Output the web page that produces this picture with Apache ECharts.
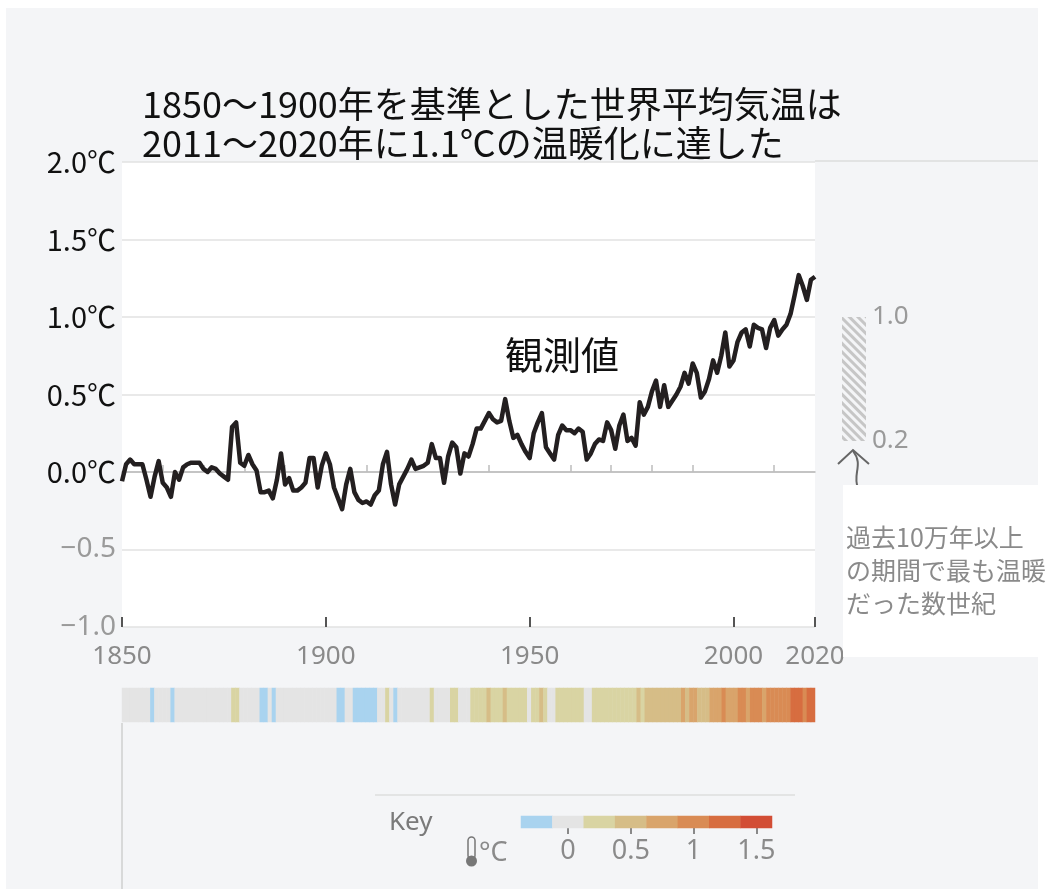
<!DOCTYPE html>
<html>
<head>
<meta charset="utf-8">
<script src="https://cdn.jsdelivr.net/npm/echarts@6/dist/echarts.min.js"></script>
<style>
  html, body { margin: 0; padding: 0; background: #ffffff; }
  #panel { position: absolute; left: 6px; top: 8px; width: 1032px; height: 881px; background: #f4f5f7; }
  #chart { position: absolute; left: 0; top: 0; width: 1054px; height: 889px; }
</style>
</head>
<body>
<div id="panel"></div>
<div id="chart"></div>
<script>
// Global mean surface temperature change relative to 1850-1900 (°C), one value per year
const startYear = 1850;
const anomalies = [
  -0.06, 0.05, 0.08, 0.05, 0.05, 0.05, -0.05, -0.16, -0.03, 0.07,   // 1850s
  -0.07, -0.10, -0.16, 0.00, -0.05, 0.03, 0.05, 0.06, 0.06, 0.06,   // 1860s
  0.02, 0.00, 0.03, 0.02, -0.01, -0.03, -0.05, 0.29, 0.32, 0.06,    // 1870s
  0.04, 0.11, 0.05, 0.01, -0.13, -0.13, -0.12, -0.17, -0.05, 0.12,  // 1880s
  -0.08, -0.04, -0.12, -0.12, -0.10, -0.07, 0.09, 0.09, -0.10, 0.04, // 1890s
  0.12, 0.05, -0.10, -0.17, -0.24, -0.08, 0.02, -0.13, -0.18, -0.20, // 1900s
  -0.19, -0.21, -0.15, -0.12, 0.05, 0.13, -0.08, -0.21, -0.08, -0.03, // 1910s
  0.02, 0.08, 0.02, 0.03, 0.04, 0.06, 0.18, 0.09, 0.09, -0.07,      // 1920s
  0.10, 0.19, 0.16, -0.01, 0.12, 0.10, 0.18, 0.28, 0.28, 0.33,      // 1930s
  0.38, 0.34, 0.32, 0.33, 0.47, 0.33, 0.22, 0.24, 0.18, 0.13,       // 1940s
  0.09, 0.25, 0.32, 0.38, 0.16, 0.12, 0.08, 0.24, 0.30, 0.27,       // 1950s
  0.27, 0.25, 0.28, 0.26, 0.08, 0.12, 0.18, 0.21, 0.20, 0.32,       // 1960s
  0.27, 0.15, 0.30, 0.37, 0.20, 0.22, 0.17, 0.45, 0.37, 0.42,       // 1970s
  0.52, 0.59, 0.42, 0.56, 0.42, 0.46, 0.50, 0.55, 0.64, 0.57,       // 1980s
  0.70, 0.64, 0.48, 0.52, 0.60, 0.72, 0.64, 0.75, 0.90, 0.68,       // 1990s
  0.72, 0.84, 0.90, 0.92, 0.81, 0.95, 0.93, 0.92, 0.80, 0.93,       // 2000s
  0.98, 0.88, 0.92, 0.95, 1.02, 1.14, 1.27, 1.20, 1.11, 1.24,       // 2010s
  1.26                                                               // 2020
];

// Axis ticks
const majorYears = [1850, 1900, 1950, 2000, 2020];
const minorYears = [1860, 1870, 1880, 1890, 1910, 1920, 1930, 1940, 1960, 1970, 1980, 1990, 2010];
const tempMin = -1.0, tempMax = 2.0, tempStep = 0.5;

// Warmest multi-century period in more than 100,000 years (°C range)
const warmRange = [0.2, 1.0];

// Colour key: one cell per 0.25 °C band, labelled at these values
const keyValues = [-0.25, 0, 0.25, 0.5, 0.75, 1, 1.25, 1.5];
const keyLabels = ['0', '0.5', '1', '1.5'];
const stripeColors = ['#a9d3ef', '#e4e4e4', '#d9d4a3', '#d6bd87', '#d9a46b', '#d98b54', '#d76d40', '#d24d35'];

const title = '1850～1900年を基準とした世界平均気温は\n2011～2020年に1.1℃の温暖化に達した';
const seriesLabel = '観測値';
const warmNote = '過去10万年以上\nの期間で最も温暖\nだった数世紀';

const JP = "'Noto Sans CJK JP', 'Noto Sans', sans-serif";
const NARROW = "'Liberation Sans Narrow', 'Noto Sans', sans-serif";

const years = anomalies.map((_, i) => startYear + i);
const linePoints = anomalies.map((v, i) => [years[i], v]);

// piecewise colour bands centred on keyValues
const pieces = keyValues.map((c, i) => {
  const p = { color: stripeColors[i] };
  if (i > 0) p.gte = c - 0.125;
  if (i < keyValues.length - 1) p.lt = c + 0.125;
  return p;
});

const chart = echarts.init(document.getElementById('chart'), null, { renderer: 'canvas' });

chart.setOption({
  backgroundColor: 'transparent',
  animation: false,
  title: {
    text: title,
    left: 137,
    top: 80,
    textStyle: { fontFamily: JP, fontSize: 36, lineHeight: 39, fontWeight: 'normal', color: '#111' }
  },
  grid: [
    { left: 122, right: 239, top: 162, bottom: 262, show: true, backgroundColor: '#ffffff', borderWidth: 0 },
    { left: 122, right: 239, top: 688, height: 34 },
    { left: 521, width: 251, top: 816, height: 12 },
    { left: 842, width: 24, top: 162, bottom: 262 }
  ],
  visualMap: {
    type: 'piecewise',
    show: false,
    seriesIndex: [1, 2],
    dimension: 2,
    pieces: pieces
  },
  xAxis: [
    {
      gridIndex: 0, type: 'value', min: startYear, max: 2020, position: 'bottom',
      axisLine: { lineStyle: { color: '#b8b8b8', width: 1.5 } },
      axisTick: { customValues: minorYears, inside: true, length: 7, lineStyle: { color: '#bdbdbd', width: 1.5 } },
      axisLabel: { show: false },
      splitLine: { show: false }
    },
    {
      gridIndex: 0, type: 'value', min: startYear, max: 2020, position: 'bottom',
      axisLine: { show: false },
      axisTick: { customValues: majorYears, inside: true, length: 10, lineStyle: { color: '#555', width: 2 } },
      axisLabel: {
        customValues: majorYears, formatter: v => String(v),
        color: '#8a8a8a', fontFamily: NARROW, fontSize: 26, margin: 17
      },
      splitLine: { show: false }
    },
    {
      gridIndex: 1, type: 'category', data: years.map(String), show: false
    },
    {
      gridIndex: 2, type: 'category', data: keyValues.map(String), position: 'bottom',
      axisLine: { show: false },
      axisTick: {
        show: true, alignWithLabel: true, length: 6,
        interval: (i, v) => keyLabels.includes(v),
        lineStyle: { color: '#666', width: 1.5 }
      },
      axisLabel: {
        interval: (i, v) => keyLabels.includes(v),
        color: '#8a8a8a', fontFamily: NARROW, fontSize: 27, margin: 10
      }
    },
    {
      gridIndex: 3, type: 'category', data: [''], show: false
    }
  ],
  yAxis: [
    {
      gridIndex: 0, type: 'value', min: tempMin, max: tempMax, interval: tempStep,
      axisLine: { show: false },
      axisTick: { show: false },
      splitLine: { lineStyle: { color: '#e2e2e2', width: 1.5 } },
      axisLabel: {
        margin: 6,
        formatter: v => v >= 0 ? '{p|' + v.toFixed(1) + '℃}' : '{n|−' + Math.abs(v).toFixed(1) + '}',
        rich: {
          p: { fontFamily: JP, fontSize: 29, color: '#111' },
          n: { fontFamily: NARROW, fontSize: 28, color: '#9a9a9a' }
        }
      }
    },
    { gridIndex: 1, type: 'category', data: [''], show: false },
    { gridIndex: 2, type: 'category', data: [''], show: false },
    {
      gridIndex: 3, type: 'value', min: tempMin, max: tempMax, position: 'right',
      axisLine: { show: false }, axisTick: { show: false }, splitLine: { show: false },
      axisLabel: {
        customValues: warmRange, formatter: v => v.toFixed(1),
        color: '#9a9a9a', fontFamily: NARROW, fontSize: 26, margin: 6
      }
    }
  ],
  series: [
    {
      name: seriesLabel, type: 'line', xAxisIndex: 0, yAxisIndex: 0,
      data: linePoints, symbol: 'none', z: 5,
      lineStyle: { color: '#231f20', width: 4.5, join: 'round' }
    },
    {
      type: 'heatmap', xAxisIndex: 2, yAxisIndex: 1,
      data: anomalies.map((v, i) => [i, 0, v]),
      itemStyle: { borderWidth: 0 }
    },
    {
      type: 'heatmap', xAxisIndex: 3, yAxisIndex: 2,
      data: keyValues.map((v, i) => [i, 0, v]),
      itemStyle: { borderWidth: 0 }
    },
    {
      type: 'bar', xAxisIndex: 4, yAxisIndex: 3, stack: 'warm', barWidth: '100%',
      data: [warmRange[0]], itemStyle: { color: 'rgba(0,0,0,0)' }, silent: true
    },
    {
      type: 'bar', xAxisIndex: 4, yAxisIndex: 3, stack: 'warm', barWidth: '100%',
      data: [warmRange[1] - warmRange[0]],
      itemStyle: {
        color: 'rgba(0,0,0,0)',
        decal: {
          symbol: 'rect', symbolSize: 1, color: '#c6c6c6',
          dashArrayX: [1, 0], dashArrayY: [3, 3], rotation: Math.PI / 4
        }
      }
    }
  ],
  graphic: [
    // rule continuing the top of the plot frame to the right
    { type: 'line', shape: { x1: 815, y1: 161, x2: 1038, y2: 161 }, style: { stroke: '#dcdcdc', lineWidth: 1.5 }, z: 1 },
    // series label
    { type: 'text', left: 505, top: 336, style: { text: seriesLabel, font: '38px ' + JP, fill: '#111' }, z: 10 },
    // arrow from the note up to the hatched range
    { type: 'polyline', shape: { points: [[838, 464], [853, 450], [869, 464]] }, style: { stroke: '#666', lineWidth: 2, fill: null }, z: 10 },
    { type: 'bezierCurve', shape: { x1: 853, y1: 451, cpx1: 864, cpy1: 465, cpx2: 852, cpy2: 474, x2: 858, y2: 488 }, style: { stroke: '#666', lineWidth: 2, fill: null }, z: 10 },
    // note box
    { type: 'rect', shape: { x: 843, y: 485, width: 195, height: 172 }, style: { fill: '#ffffff' }, z: 11 },
    { type: 'text', left: 846, top: 521, style: { text: warmNote, font: '25px ' + JP, lineHeight: 33, fill: '#8a8a8a' }, z: 12 },
    // frame lines around the stripe band and key
    { type: 'line', shape: { x1: 122, y1: 723, x2: 122, y2: 889 }, style: { stroke: '#cfcfcf', lineWidth: 1.5 }, z: 1 },
    { type: 'line', shape: { x1: 375, y1: 795, x2: 795, y2: 795 }, style: { stroke: '#dedede', lineWidth: 1.5 }, z: 1 },
    // key caption
    { type: 'text', left: 389, top: 810, style: { text: 'Key', font: '26px ' + NARROW, fill: '#7a7a7a' }, z: 10 },
    // thermometer icon and unit
    { type: 'rect', shape: { x: 468, y: 837, width: 7, height: 22, r: 3.5 }, style: { fill: null, stroke: '#777', lineWidth: 1.5 }, z: 10 },
    { type: 'circle', shape: { cx: 471.5, cy: 861, r: 5.5 }, style: { fill: '#777' }, z: 10 },
    { type: 'text', left: 479, top: 840, style: { text: '°C', font: '27px ' + NARROW, fill: '#8a8a8a' }, z: 10 }
  ]
});
</script>
</body>
</html>
